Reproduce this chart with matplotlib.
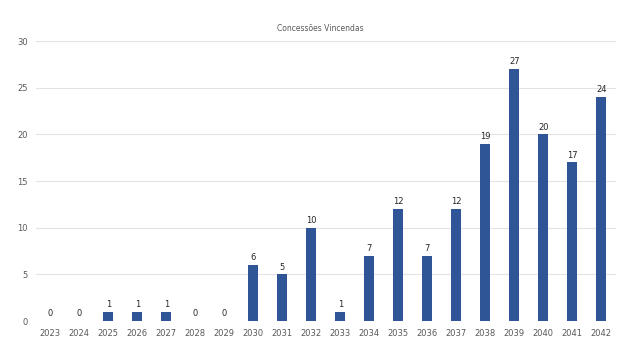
import matplotlib
matplotlib.use('Agg')
import matplotlib.pyplot as plt

# data
years = [str(y) for y in range(2023, 2043)]
counts = [0, 0, 1, 1, 1, 0, 0, 6, 5, 10, 1, 7, 12, 7, 12, 19, 27, 20, 17, 24]
title = 'Concessões Vincendas'

bar_color = '#2F5597'
text_color = '#595959'
grid_color = '#E3E3E3'

fig = plt.figure(figsize=(6.4, 3.6), dpi=100)
ax = fig.add_axes([0.056, 0.108, 0.906, 0.778])

x = range(len(years))
bars = ax.bar(x, counts, width=0.34, color=bar_color, zorder=3)
ax.bar_label(bars, labels=[str(c) for c in counts], padding=2, fontsize=6, color='#262626')

ax.set_xlim(-0.5, len(years) - 0.5)
ax.set_ylim(0, 30)
ax.set_yticks(range(0, 31, 5))
ax.set_xticks(list(x))
ax.set_xticklabels(years)
ax.tick_params(axis='both', length=0, labelsize=6, colors=text_color, pad=6)
ax.yaxis.grid(True, color=grid_color, linewidth=0.8, zorder=0)
for s in ax.spines.values():
    s.set_visible(False)

fig.text(0.5, 0.922, title, ha='center', va='center', fontsize=5.5, color=text_color)

fig.savefig('out.png', dpi=100)
